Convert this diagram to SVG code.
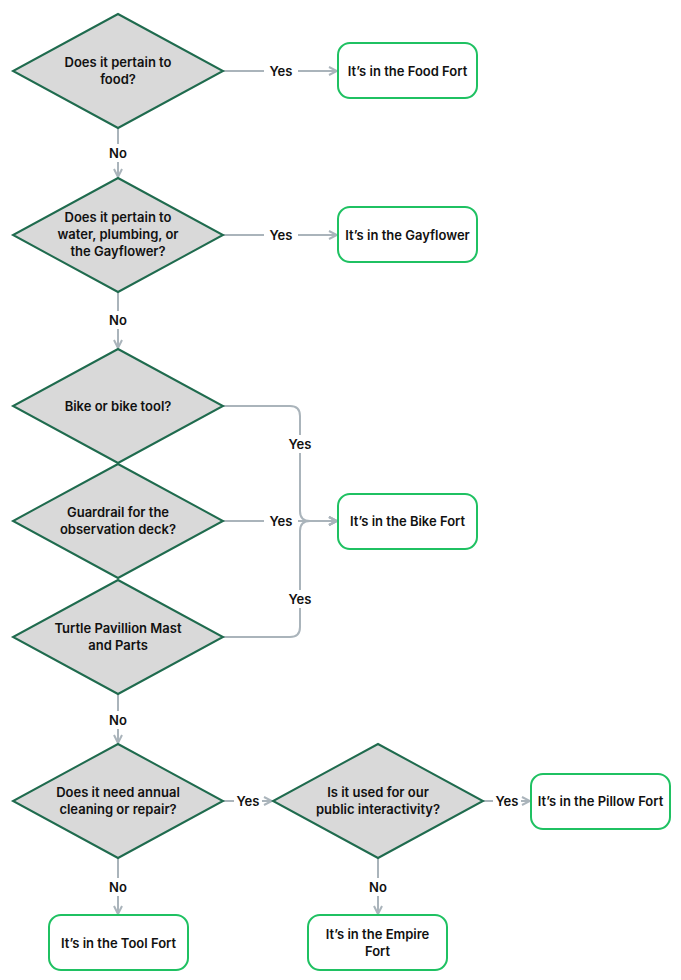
<svg xmlns="http://www.w3.org/2000/svg" width="681" height="980" viewBox="0 0 681 980">
<defs>
<style>
.d{fill:#d9d9d9;stroke:#1f6b4e;stroke-width:2}
.b{fill:#fff;stroke:#1fc162;stroke-width:2}
.t{font-family:Inter,"Liberation Sans",sans-serif;font-size:13px;font-weight:600;fill:#111;text-anchor:middle}
.e{fill:none;stroke:#aab4bb;stroke-width:2}
.lb{fill:#fff}
</style>
<marker id="ah" viewBox="0 0 10 10" refX="9" refY="5" markerWidth="10" markerHeight="10" markerUnits="userSpaceOnUse" orient="auto">
<path d="M1,1 L9,5 L1,9" fill="none" stroke="#aab4bb" stroke-width="2"/>
</marker>
</defs>
<rect width="681" height="980" fill="#fff"/>
<g id="connectors">
<path class="e" d="M223,71 H337" marker-end="url(#ah)"/>
<path class="e" d="M118,128 V177" marker-end="url(#ah)"/>
<path class="e" d="M223,235 H337" marker-end="url(#ah)"/>
<path class="e" d="M118,292 V348" marker-end="url(#ah)"/>
<path class="e" d="M223,406 H290 Q300,406 300,416 V511 Q300,521 310,521 H337" marker-end="url(#ah)"/>
<path class="e" d="M223,521 H337" marker-end="url(#ah)"/>
<path class="e" d="M223,637 H290 Q300,637 300,627 V531 Q300,521 310,521 H337" marker-end="url(#ah)"/>
<path class="e" d="M118,694 V743" marker-end="url(#ah)"/>
<path class="e" d="M223,801 H272" marker-end="url(#ah)"/>
<path class="e" d="M483,801 H530" marker-end="url(#ah)"/>
<path class="e" d="M118,858 V914" marker-end="url(#ah)"/>
<path class="e" d="M378,858 V914" marker-end="url(#ah)"/>
<rect class="lb" x="264" y="62" width="34" height="18"/>
<text class="t" x="281" y="76">Yes</text>
<rect class="lb" x="104" y="144" width="28" height="18"/>
<text class="t" x="118" y="158">No</text>
<rect class="lb" x="264" y="226" width="34" height="18"/>
<text class="t" x="281" y="240">Yes</text>
<rect class="lb" x="104" y="311" width="28" height="18"/>
<text class="t" x="118" y="325">No</text>
<rect class="lb" x="283" y="435" width="34" height="18"/>
<text class="t" x="300" y="449">Yes</text>
<rect class="lb" x="264" y="512" width="34" height="18"/>
<text class="t" x="281" y="526">Yes</text>
<rect class="lb" x="283" y="590" width="34" height="18"/>
<text class="t" x="300" y="604">Yes</text>
<rect class="lb" x="104" y="711" width="28" height="18"/>
<text class="t" x="118" y="725">No</text>
<rect class="lb" x="234" y="792" width="28" height="18"/>
<text class="t" x="248" y="806">Yes</text>
<rect class="lb" x="493" y="792" width="28" height="18"/>
<text class="t" x="507" y="806">Yes</text>
<rect class="lb" x="104" y="878" width="28" height="18"/>
<text class="t" x="118" y="892">No</text>
<rect class="lb" x="364" y="878" width="28" height="18"/>
<text class="t" x="378" y="892">No</text>
</g>
<g id="q1"><polygon class="d" points="118,14 223,71 118,128 13,71"/><text class="t" x="118" y="67">Does it pertain to</text><text class="t" x="118" y="84">food?</text></g>
<g id="food"><rect class="b" x="338" y="43" width="139" height="55" rx="12"/><text class="t" x="407.5" y="76">It’s in the Food Fort</text></g>
<g id="q2"><polygon class="d" points="118,178 223,235 118,292 13,235"/><text class="t" x="118" y="222">Does it pertain to</text><text class="t" x="118" y="239">water, plumbing, or</text><text class="t" x="118" y="256">the Gayflower?</text></g>
<g id="gay"><rect class="b" x="338" y="207" width="139" height="55" rx="12"/><text class="t" x="407.5" y="240">It’s in the Gayflower</text></g>
<g id="q3"><polygon class="d" points="118,349 223,406 118,463 13,406"/><text class="t" x="118" y="411">Bike or bike tool?</text></g>
<g id="q4"><polygon class="d" points="118,464 223,521 118,578 13,521"/><text class="t" x="118" y="517">Guardrail for the</text><text class="t" x="118" y="534">observation deck?</text></g>
<g id="bike"><rect class="b" x="338" y="494" width="139" height="55" rx="12"/><text class="t" x="407.5" y="526">It’s in the Bike Fort</text></g>
<g id="q5"><polygon class="d" points="118,580 223,637 118,694 13,637"/><text class="t" x="118" y="633">Turtle Pavillion Mast</text><text class="t" x="118" y="650">and Parts</text></g>
<g id="q6"><polygon class="d" points="118,744 223,801 118,858 13,801"/><text class="t" x="118" y="797">Does it need annual</text><text class="t" x="118" y="814">cleaning or repair?</text></g>
<g id="q7"><polygon class="d" points="378,744 483,801 378,858 273,801"/><text class="t" x="378" y="797">Is it used for our</text><text class="t" x="378" y="814">public interactivity?</text></g>
<g id="pillow"><rect class="b" x="531" y="774" width="139" height="55" rx="12"/><text class="t" x="600.5" y="806">It’s in the Pillow Fort</text></g>
<g id="tool"><rect class="b" x="49" y="915" width="139" height="55" rx="12"/><text class="t" x="118.5" y="948">It’s in the Tool Fort</text></g>
<g id="empire"><rect class="b" x="308" y="915" width="139" height="55" rx="12"/><text class="t" x="377.5" y="939">It’s in the Empire</text><text class="t" x="377.5" y="956">Fort</text></g>
</svg>
